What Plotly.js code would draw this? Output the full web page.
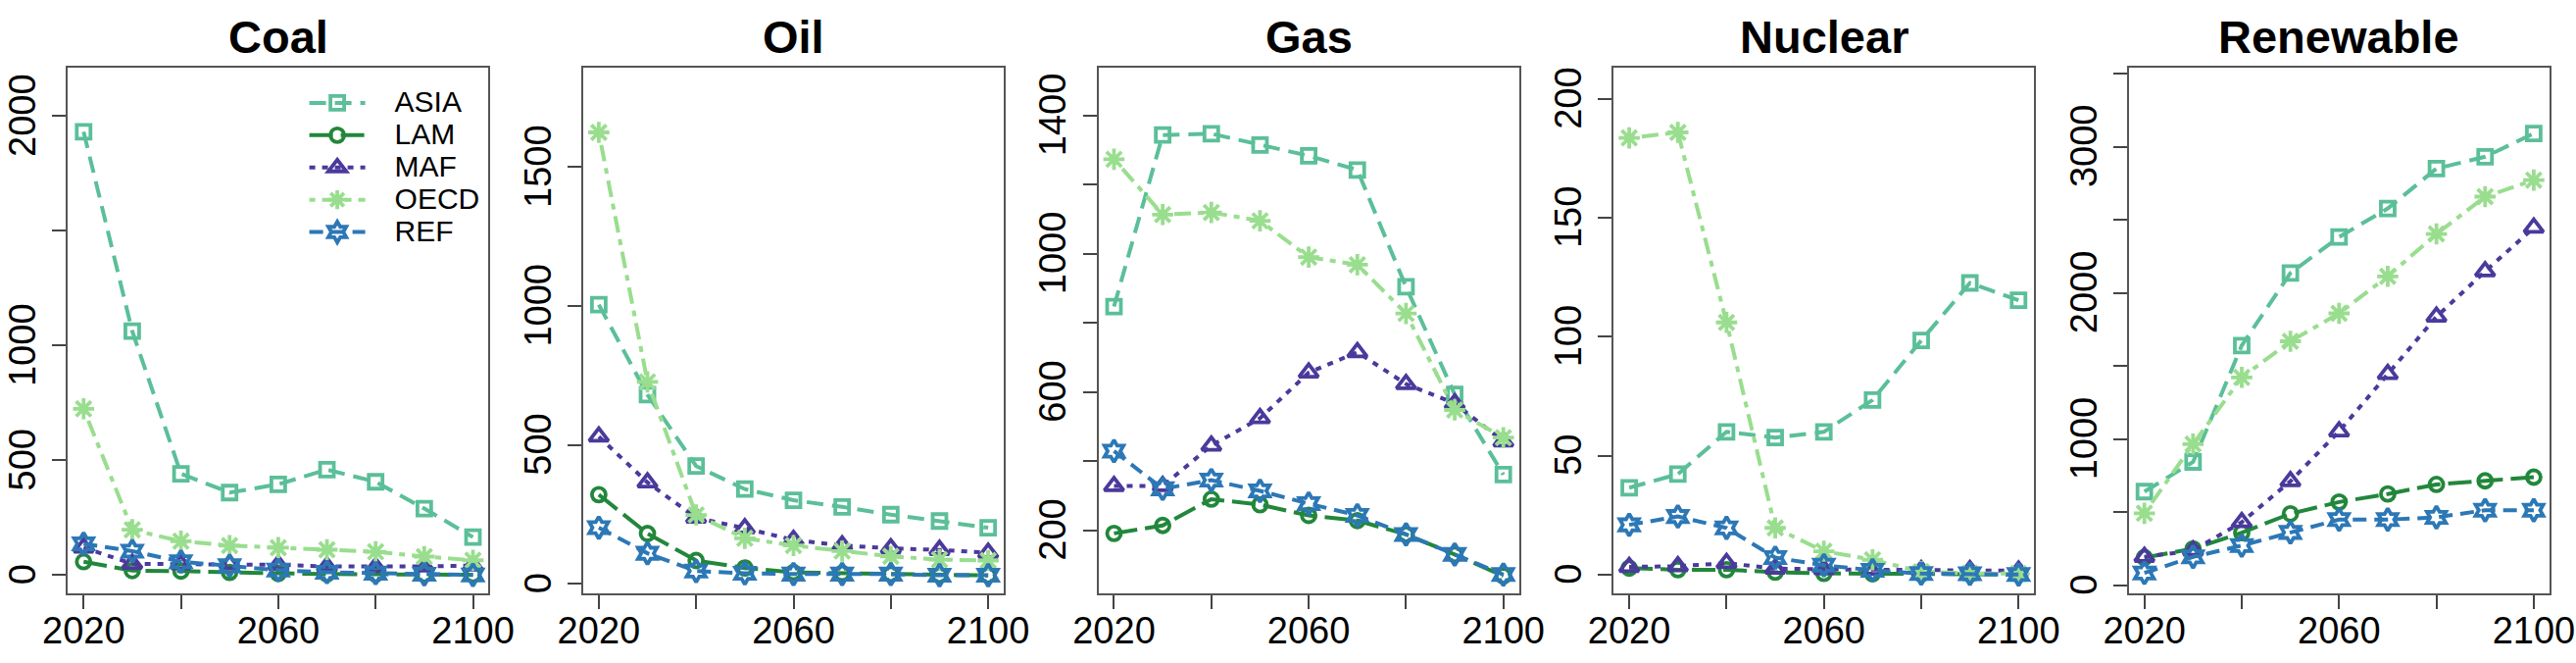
<!DOCTYPE html>
<html>
<head>
<meta charset="utf-8">
<script src="https://cdn.plot.ly/plotly-3.0.1.min.js"></script>
<style>html,body{margin:0;padding:0;background:#fff;}</style>
</head>
<body>
<div id="chart" style="width:2628px;height:676px;"></div>
<script>
// ---- data ----
const years = [2020, 2030, 2040, 2050, 2060, 2070, 2080, 2090, 2100];
const regions = ["ASIA", "LAM", "MAF", "OECD", "REF"];
const fuels = ["Coal", "Oil", "Gas", "Nuclear", "Renewable"];

// rows: ASIA, LAM, MAF, OECD, REF
const coal = [
  [1932, 1063, 442, 360, 396, 460, 407, 290, 166],
  [59, 20, 18, 12, 8, 5, 4, 3, 2],
  [120, 50, 48, 48, 45, 38, 36, 38, 42],
  [725, 198, 148, 129, 120, 111, 102, 81, 65],
  [137, 105, 59, 41, 22, 13, 9, 4, 1]
];
const oil = [
  [1005, 681, 424, 341, 301, 277, 249, 226, 202],
  [321, 181, 84, 57, 41, 38, 35, 31, 30],
  [530, 365, 238, 200, 158, 138, 128, 122, 112],
  [1625, 727, 248, 164, 138, 118, 99, 87, 84],
  [202, 110, 46, 38, 35, 35, 35, 31, 31]
];
const gas = [
  [847, 1343, 1347, 1314, 1283, 1242, 904, 593, 361],
  [191, 214, 290, 274, 243, 228, 188, 130, 68],
  [328, 328, 445, 524, 656, 715, 623, 567, 457],
  [1273, 1113, 1119, 1095, 990, 968, 827, 548, 468],
  [429, 320, 345, 314, 277, 243, 188, 130, 72]
];
const nuclear = [
  [36.5, 42.2, 60, 57.6, 60, 73.4, 98.4, 122.6, 115.3],
  [2.7, 2, 2, 1, 0.5, 0.3, 0.2, 0.1, 0],
  [3.2, 3.5, 4.8, 2.5, 2.2, 2, 1.8, 1.8, 1.6],
  [183.6, 185.9, 106, 19.6, 9.8, 6.2, 1.2, 0.5, 0.4],
  [20.9, 24.4, 19.6, 7.1, 3.9, 1.8, 0.4, 0.3, 0]
];
const renewable = [
  [641, 844, 1640, 2136, 2382, 2577, 2850, 2931, 3090],
  [190, 250, 360, 490, 570, 625, 690, 715, 740],
  [195, 238, 432, 712, 1053, 1445, 1837, 2147, 2446],
  [493, 966, 1422, 1669, 1860, 2113, 2403, 2658, 2771],
  [85, 195, 272, 362, 450, 450, 465, 514, 514]
];
const fuelData = [coal, oil, gas, nuclear, renewable];

// tick labels
const xTickVals = [2020, 2040, 2060, 2080, 2100];
const xTickText = ["2020", "", "2060", "", "2100"];
const coalTickVals = [0, 500, 1000, 1500, 2000];
const coalTickText = ["0", "500", "1000", "", "2000"];
const oilTickVals = [0, 500, 1000, 1500];
const oilTickText = ["0", "500", "1000", "1500"];
const gasTickVals = [200, 400, 600, 800, 1000, 1200, 1400];
const gasTickText = ["200", "", "600", "", "1000", "", "1400"];
const nuclearTickVals = [0, 50, 100, 150, 200];
const nuclearTickText = ["0", "50", "100", "150", "200"];
const renewTickVals = [0, 500, 1000, 1500, 2000, 2500, 3000, 3500];
const renewTickText = ["0", "", "1000", "", "2000", "", "3000", ""];

// ---- styles ----
const colors = ["#5bbf99", "#22873b", "#4b3a9b", "#99dd8f", "#2c77b6"];
const dashes = ["17px,9px", "24px,8px", "6px,7px", "6px,7px,17px,7px", "14px,8px"];
const symbols = ["square-open", "circle-open", "triangle-up-open", "asterisk-open", "hexagram-open"];
const msizes = [14, 14, 17, 18, 17];
const yTicks = [
  [coalTickVals, coalTickText],
  [oilTickVals, oilTickText],
  [gasTickVals, gasTickText],
  [nuclearTickVals, nuclearTickText],
  [renewTickVals, renewTickText]
];
const yRanges = [[-80, 2210], [-35, 1857], [17, 1537], [-8, 213], [-56, 3538]];

const W = 2628, H = 676;
const boxLeft0 = 69.4, boxStep = 525.6, boxW = 429;
const boxTop = 69.3, boxBottom = 605.2;
const FONT = "Liberation Sans, Arial, Helvetica, sans-serif";

const traces = [];
const layout = {
  width: W, height: H,
  margin: {l: 0, r: 0, t: 0, b: 0},
  paper_bgcolor: "#ffffff", plot_bgcolor: "#ffffff",
  font: {family: FONT, color: "#000"},
  showlegend: true,
  legend: {
    x: 310.6 / W, y: 1 - 83.5 / H, xanchor: "left", yanchor: "top",
    bgcolor: "rgba(0,0,0,0)", borderwidth: 0,
    font: {family: FONT, size: 23, color: "#000"},
    itemwidth: 57, tracegroupgap: 0
  },
  annotations: []
};

fuels.forEach((fuel, f) => {
  const sfx = f === 0 ? "" : String(f + 1);
  regions.forEach((reg, r) => {
    traces.push({
      type: "scatter", mode: "lines+markers",
      x: years, y: fuelData[f][r],
      xaxis: "x" + sfx, yaxis: "y" + sfx,
      name: '<span style="font-size:30px">&nbsp;&nbsp;&nbsp;' + reg + '</span>',
      legendgroup: reg, showlegend: f === 0,
      line: {color: colors[r], width: 4, dash: dashes[r]},
      marker: {symbol: symbols[r], size: msizes[r], color: colors[r],
               line: {color: colors[r], width: 3.8}},
      cliponaxis: false
    });
  });
  const left = boxLeft0 + boxStep * f;
  layout["xaxis" + sfx] = {
    domain: [left / W, (left + boxW) / W], anchor: "y" + sfx,
    range: [2016.8, 2103.2],
    tickmode: "array", tickvals: xTickVals, ticktext: xTickText,
    ticks: "outside", ticklen: 14, tickwidth: 2, tickcolor: "#444",
    ticklabelstandoff: -11,
    showline: true, mirror: true, linecolor: "#555", linewidth: 2,
    showgrid: false, zeroline: false,
    tickfont: {family: FONT, size: 38, color: "#000"}
  };
  layout["yaxis" + sfx] = {
    domain: [1 - boxBottom / H, 1 - boxTop / H], anchor: "x" + sfx,
    range: yRanges[f],
    tickmode: "array", tickvals: yTicks[f][0], ticktext: yTicks[f][1],
    ticks: "outside", ticklen: 14, tickwidth: 2, tickcolor: "#444",
    tickangle: -90, ticklabelstandoff: 2, ticklabelshift: 5,
    showline: true, mirror: true, linecolor: "#555", linewidth: 2,
    showgrid: false, zeroline: false,
    tickfont: {family: FONT, size: 38, color: "#000"}
  };
  layout.annotations.push({
    text: "<b>" + fuel + "</b>", xref: "paper", yref: "paper",
    x: (left + boxW / 2) / W, y: 1 - 37 / H,
    xanchor: "center", yanchor: "middle", showarrow: false,
    font: {family: FONT, size: 47, color: "#000"}
  });
});

Plotly.newPlot("chart", traces, layout, {staticPlot: true, displayModeBar: false});
</script>
</body>
</html>
